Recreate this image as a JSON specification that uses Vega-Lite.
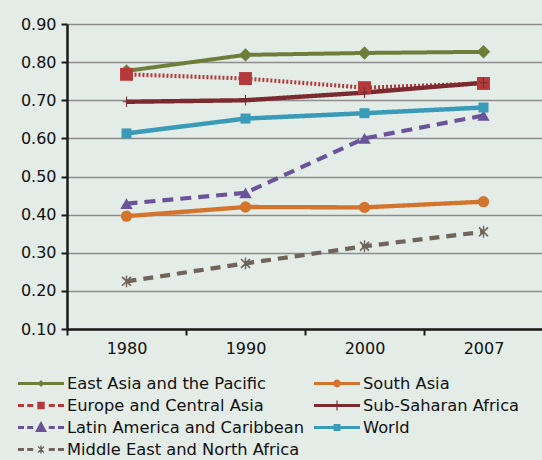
{
  "$schema": "https://vega.github.io/schema/vega-lite/v6.json",
  "width": 476,
  "height": 305,
  "autosize": {"type": "none"},
  "padding": {"left": 67, "top": 24, "right": 0, "bottom": 131},
  "background": "#e4ece7",
  "config": {
    "view": {"stroke": null},
    "font": "DejaVu Sans",
    "axis": {"labelFont": "DejaVu Sans", "labelFontSize": 16, "labelColor": "#111111", "title": null}
  },
  "data": {
    "values": [
      {"year": "1980", "region": "East Asia and the Pacific", "value": 0.777},
      {"year": "1990", "region": "East Asia and the Pacific", "value": 0.819},
      {"year": "2000", "region": "East Asia and the Pacific", "value": 0.824},
      {"year": "2007", "region": "East Asia and the Pacific", "value": 0.827},
      {"year": "1980", "region": "Europe and Central Asia", "value": 0.768},
      {"year": "1990", "region": "Europe and Central Asia", "value": 0.757},
      {"year": "2000", "region": "Europe and Central Asia", "value": 0.733},
      {"year": "2007", "region": "Europe and Central Asia", "value": 0.744},
      {"year": "1980", "region": "Latin America and Caribbean", "value": 0.429},
      {"year": "1990", "region": "Latin America and Caribbean", "value": 0.457},
      {"year": "2000", "region": "Latin America and Caribbean", "value": 0.600},
      {"year": "2007", "region": "Latin America and Caribbean", "value": 0.660},
      {"year": "1980", "region": "Middle East and North Africa", "value": 0.225},
      {"year": "1990", "region": "Middle East and North Africa", "value": 0.272},
      {"year": "2000", "region": "Middle East and North Africa", "value": 0.317},
      {"year": "2007", "region": "Middle East and North Africa", "value": 0.355},
      {"year": "1980", "region": "South Asia", "value": 0.396},
      {"year": "1990", "region": "South Asia", "value": 0.420},
      {"year": "2000", "region": "South Asia", "value": 0.419},
      {"year": "2007", "region": "South Asia", "value": 0.434},
      {"year": "1980", "region": "Sub-Saharan Africa", "value": 0.696},
      {"year": "1990", "region": "Sub-Saharan Africa", "value": 0.700},
      {"year": "2000", "region": "Sub-Saharan Africa", "value": 0.720},
      {"year": "2007", "region": "Sub-Saharan Africa", "value": 0.746},
      {"year": "1980", "region": "World", "value": 0.613},
      {"year": "1990", "region": "World", "value": 0.652},
      {"year": "2000", "region": "World", "value": 0.666},
      {"year": "2007", "region": "World", "value": 0.681}
    ]
  },
  "encoding": {
    "x": {
      "field": "year", "type": "ordinal",
      "scale": {"type": "band", "paddingInner": 0, "paddingOuter": 0},
      "axis": {"labelAngle": 0, "domainColor": "#1a1a1a", "domainWidth": 2.5, "tickColor": "#1a1a1a", "tickWidth": 2, "tickSize": 6, "tickBand": "extent", "labelPadding": 5, "grid": false}
    },
    "y": {
      "field": "value", "type": "quantitative",
      "scale": {"domain": [0.1, 0.9], "nice": false, "zero": false},
      "axis": {"values": [0.1, 0.2, 0.3, 0.4, 0.5, 0.6, 0.7, 0.8, 0.9], "format": ".2f", "grid": true, "gridColor": "#8c8c8c", "gridWidth": 1.5, "domainColor": "#1a1a1a", "domainWidth": 2.5, "tickColor": "#1a1a1a", "tickWidth": 2, "tickSize": 6, "labelPadding": 5}
    }
  },
  "resolve": {"scale": {"color": "independent", "shape": "independent", "size": "independent"}, "legend": {"color": "independent", "shape": "independent"}},
  "layer": [
    {
      "mark": {"type": "line"},
      "encoding": {
        "color": {
          "field": "region", "type": "nominal", "legend": null,
          "scale": {
            "domain": ["East Asia and the Pacific", "Europe and Central Asia", "Latin America and Caribbean", "Middle East and North Africa", "South Asia", "Sub-Saharan Africa", "World"],
            "range": ["#6e7e3a", "#b5393a", "#6b539b", "#6f635a", "#d2742b", "#7b2a2f", "#3a9bb8"]
          }
        },
        "strokeDash": {
          "field": "region", "type": "nominal", "legend": null,
          "scale": {
            "domain": ["East Asia and the Pacific", "Europe and Central Asia", "Latin America and Caribbean", "Middle East and North Africa", "South Asia", "Sub-Saharan Africa", "World"],
            "range": [[1, 0], [2, 2], [11, 7], [10, 7], [1, 0], [1, 0], [1, 0]]
          }
        },
        "strokeWidth": {
          "field": "region", "type": "nominal", "legend": null,
          "scale": {
            "domain": ["East Asia and the Pacific", "Europe and Central Asia", "Latin America and Caribbean", "Middle East and North Africa", "South Asia", "Sub-Saharan Africa", "World"],
            "range": [4, 4.5, 5.5, 4.5, 3.5, 5, 4]
          }
        },
        "order": {"field": "region", "type": "nominal"}
      }
    },
    {
      "mark": {"type": "point", "filled": true, "opacity": 1},
      "encoding": {
        "color": {
          "field": "region", "type": "nominal", "legend": null,
          "scale": {
            "domain": ["East Asia and the Pacific", "Europe and Central Asia", "Latin America and Caribbean", "Middle East and North Africa", "South Asia", "Sub-Saharan Africa", "World"],
            "range": ["#6e7e3a", "#b5393a", "#6b539b", "#6f635a", "#d2742b", "#7b2a2f", "#3a9bb8"]
          }
        },
        "shape": {
          "field": "region", "type": "nominal", "legend": null,
          "scale": {
            "domain": ["East Asia and the Pacific", "Europe and Central Asia", "Latin America and Caribbean", "Middle East and North Africa", "South Asia", "Sub-Saharan Africa", "World"],
            "range": ["diamond", "square", "triangle-up", "M-0.12,-1 L0.12,-1 L0.12,1 L-0.12,1 Z M-0.85,-0.65 L-0.65,-0.85 L0.85,0.65 L0.65,0.85 Z M0.65,-0.85 L0.85,-0.65 L-0.65,0.85 L-0.85,0.65 Z", "circle", "M-0.1,-1 L0.1,-1 L0.1,1 L-0.1,1 Z M-0.7,-0.1 L0.7,-0.1 L0.7,0.1 L-0.7,0.1 Z", "square"]
          }
        },
        "size": {
          "field": "region", "type": "nominal", "legend": null,
          "scale": {
            "domain": ["East Asia and the Pacific", "Europe and Central Asia", "Latin America and Caribbean", "Middle East and North Africa", "South Asia", "Sub-Saharan Africa", "World"],
            "range": [180, 100, 200, 160, 121, 256, 100]
          }
        }
      }
    },
    {
      "transform": [{"filter": "false"}],
      "mark": {"type": "point", "filled": true, "opacity": 1, "strokeWidth": 0},
      "encoding": {
        "color": {
          "field": "region", "type": "nominal",
          "scale": {
            "domain": ["East Asia and the Pacific", "Europe and Central Asia", "Latin America and Caribbean", "Middle East and North Africa", "South Asia", "Sub-Saharan Africa", "World"],
            "range": ["#6e7e3a", "#b5393a", "#6b539b", "#6f635a", "#d2742b", "#7b2a2f", "#3a9bb8"]
          },
          "legend": {
            "title": null, "orient": "none", "legendX": -49, "legendY": 349, "columns": 2, "columnPadding": 9, "rowPadding": 1,
            "symbolSize": 2116, "symbolStrokeWidth": 0, "clipHeight": 21, "labelFont": "DejaVu Sans", "labelFontSize": 16.3, "labelColor": "#111111", "labelOffset": 3, "labelLimit": 400
          }
        },
        "shape": {
          "field": "region", "type": "nominal",
          "scale": {
            "domain": ["East Asia and the Pacific", "Europe and Central Asia", "Latin America and Caribbean", "Middle East and North Africa", "South Asia", "Sub-Saharan Africa", "World"],
            "range": [
              "M-1,-0.06 L1,-0.06 L1,0.06 L-1,0.06 Z M-0.15,0 L0,-0.15 L0.15,0 L0,0.15 Z",
              "M-1,-0.06 L-0.74,-0.06 L-0.74,0.06 L-1,0.06 Z M-0.6,-0.06 L-0.34,-0.06 L-0.34,0.06 L-0.6,0.06 Z M-0.16,-0.16 L0.16,-0.16 L0.16,0.16 L-0.16,0.16 Z M0.34,-0.06 L0.6,-0.06 L0.6,0.06 L0.34,0.06 Z M0.74,-0.06 L1,-0.06 L1,0.06 L0.74,0.06 Z",
              "M-1,-0.06 L-0.74,-0.06 L-0.74,0.06 L-1,0.06 Z M-0.6,-0.06 L-0.34,-0.06 L-0.34,0.06 L-0.6,0.06 Z M0,-0.28 L0.26,0.2 L-0.26,0.2 Z M0.34,-0.06 L0.6,-0.06 L0.6,0.06 L0.34,0.06 Z M0.74,-0.06 L1,-0.06 L1,0.06 L0.74,0.06 Z",
              "M-1,-0.06 L-0.74,-0.06 L-0.74,0.06 L-1,0.06 Z M-0.6,-0.06 L-0.34,-0.06 L-0.34,0.06 L-0.6,0.06 Z M-0.03,-0.17 L0.03,-0.17 L0.03,0.17 L-0.03,0.17 Z M-0.15,-0.11 L-0.11,-0.15 L0.15,0.11 L0.11,0.15 Z M0.11,-0.15 L0.15,-0.11 L-0.11,0.15 L-0.15,0.11 Z M0.34,-0.06 L0.6,-0.06 L0.6,0.06 L0.34,0.06 Z M0.74,-0.06 L1,-0.06 L1,0.06 L0.74,0.06 Z",
              "M-1,-0.06 L1,-0.06 L1,0.06 L-1,0.06 Z M-0.17,0 A0.17,0.17 0 1,1 0.17,0 A0.17,0.17 0 1,1 -0.17,0 Z",
              "M-1,-0.06 L1,-0.06 L1,0.06 L-1,0.06 Z M-0.025,-0.22 L0.025,-0.22 L0.025,0.22 L-0.025,0.22 Z",
              "M-1,-0.06 L1,-0.06 L1,0.06 L-1,0.06 Z M-0.15,-0.15 L0.15,-0.15 L0.15,0.15 L-0.15,0.15 Z"
            ]
          },
          "legend": {
            "title": null, "orient": "none", "legendX": -49, "legendY": 349, "columns": 2, "columnPadding": 9, "rowPadding": 1,
            "symbolSize": 2116, "symbolStrokeWidth": 0, "clipHeight": 21, "labelFont": "DejaVu Sans", "labelFontSize": 16.3, "labelColor": "#111111", "labelOffset": 3, "labelLimit": 400
          }
        }
      }
    }
  ]
}
